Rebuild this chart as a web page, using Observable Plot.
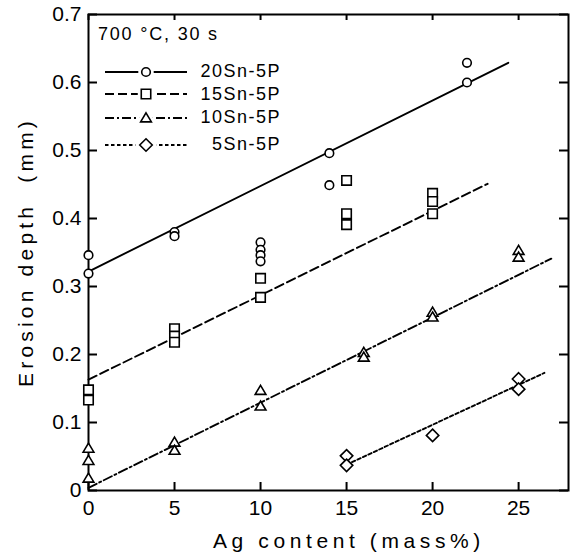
<!DOCTYPE html>
<html><head><meta charset="utf-8">
<script src="https://cdn.jsdelivr.net/npm/d3@7"></script>
<script src="https://cdn.jsdelivr.net/npm/@observablehq/plot@0.6"></script>
<style>
body{margin:0;background:#fff;}
#wrap{position:relative;width:573px;height:558px;}
#wrap svg{display:block;}
#overlay{position:absolute;left:0;top:0;pointer-events:none;}
</style></head><body><div id="wrap"><div id="chart"></div></div>
<script>
// ---- data ----
const seriesNames = ["20Sn-5P", "15Sn-5P", "10Sn-5P", "5Sn-5P"];

const ag20    = [0, 0, 5, 5, 10, 10, 10, 10, 14, 14, 22, 22];
const depth20 = [0.346, 0.319, 0.380, 0.374, 0.365, 0.354, 0.346, 0.337, 0.496, 0.449, 0.629, 0.600];

const ag15    = [0, 0, 5, 5, 5, 10, 10, 15, 15, 15, 20, 20, 20];
const depth15 = [0.148, 0.133, 0.238, 0.227, 0.218, 0.312, 0.284, 0.456, 0.407, 0.391, 0.437, 0.425, 0.407];

const ag10    = [0, 0, 0, 5, 5, 10, 10, 16, 16, 20, 20, 25, 25];
const depth10 = [0.062, 0.044, 0.018, 0.071, 0.059, 0.147, 0.124, 0.203, 0.196, 0.262, 0.255, 0.353, 0.343];

const ag5     = [15, 15, 20, 25, 25];
const depth5  = [0.051, 0.037, 0.081, 0.164, 0.149];

// fitted straight lines (end points)
const fitAg20 = [0, 24.4],  fitDepth20 = [0.322, 0.629];
const fitAg15 = [0, 23.2],  fitDepth15 = [0.163, 0.451];
const fitAg10 = [0, 26.9],  fitDepth10 = [0.004, 0.341];
const fitAg5  = [15, 26.5], fitDepth5  = [0.038, 0.173];

const xTicks = [0, 5, 10, 15, 20, 25];
const xTickLabels = ["0", "5", "10", "15", "20", "25"];
const yTicks = [0, 0.1, 0.2, 0.3, 0.4, 0.5, 0.6, 0.7];
const yTickLabels = ["0", "0.1", "0.2", "0.3", "0.4", "0.5", "0.6", "0.7"];
const xLabel = "Ag content (mass%)";
const yLabel = "Erosion depth\u00a0\u00a0(mm)";
const note = "700 °C, 30 s";

// ---- styling ----
const FONT = "'Liberation Sans', Arial, sans-serif";
const W = 573, H = 558, ML = 88, MR = 5, MT = 14, MB = 68;
const PW = W - ML - MR, PH = H - MT - MB;
const R = 4.3;

const symCircle = {draw(c, s){ const r = Math.sqrt(s/Math.PI); c.moveTo(r,0); c.arc(0,0,r,0,2*Math.PI); c.closePath(); }};
const symSquare = {draw(c, s){ const r = Math.sqrt(s/Math.PI)*1.1; c.rect(-r,-r,2*r,2*r); }};
const symTri    = {draw(c, s){ const r = Math.sqrt(s/Math.PI); const w = r*1.25; c.moveTo(0,-r*1.2); c.lineTo(w, r*0.9); c.lineTo(-w, r*0.9); c.closePath(); }};
const symDiam   = {draw(c, s){ const r = Math.sqrt(s/Math.PI)*1.45; c.moveTo(0,-r); c.lineTo(r,0); c.lineTo(0,r); c.lineTo(-r,0); c.closePath(); }};

const series = [
  {name: seriesNames[0], x: ag20, y: depth20, fx: fitAg20, fy: fitDepth20, sym: symCircle, dash: null},
  {name: seriesNames[1], x: ag15, y: depth15, fx: fitAg15, fy: fitDepth15, sym: symSquare, dash: "9,4"},
  {name: seriesNames[2], x: ag10, y: depth10, fx: fitAg10, fy: fitDepth10, sym: symTri,    dash: "9,3,2,3"},
  {name: seriesNames[3], x: ag5,  y: depth5,  fx: fitAg5,  fy: fitDepth5,  sym: symDiam,   dash: "3.5,2.5"}
];
const pts = s => s.x.map((x, i) => ({x, y: s.y[i]}));
const fit = s => s.fx.map((x, i) => ({x, y: s.fy[i]}));

const marks = [
  Plot.frame({stroke: "black", strokeWidth: 2}),
  Plot.tickY(yTicks, {y: d => d, insetRight: PW - 9, stroke: "black", strokeWidth: 2}),
  Plot.tickY(yTicks, {y: d => d, insetLeft: PW - 9, stroke: "black", strokeWidth: 2}),
  Plot.tickX(xTicks, {x: d => d, insetTop: PH - 8, stroke: "black", strokeWidth: 2}),
  Plot.tickX(xTicks, {x: d => d, insetBottom: PH - 6, stroke: "black", strokeWidth: 2}),
  Plot.axisY({ticks: yTicks, tickSize: 0, tickPadding: 7, label: null,
              tickFormat: d => yTickLabels[yTicks.indexOf(d)], fontSize: 21}),
  Plot.axisX({ticks: xTicks, tickSize: 0, tickPadding: 10, label: null,
              tickFormat: d => xTickLabels[xTicks.indexOf(d)], fontSize: 21}),
];
for (const s of series) {
  marks.push(Plot.line(fit(s), {x: "x", y: "y", stroke: "black", strokeWidth: 1.9, strokeDasharray: s.dash}));
}
for (const s of series) {
  marks.push(Plot.dot(pts(s), {x: "x", y: "y", symbol: s.sym, r: R, fill: "white", stroke: "black", strokeWidth: 1.6}));
}

const chart = Plot.plot({
  width: W, height: H,
  marginLeft: ML, marginRight: MR, marginTop: MT, marginBottom: MB,
  style: {fontFamily: FONT, fontSize: "21px", color: "black", background: "white"},
  x: {domain: [0, 27.9]},
  y: {domain: [0, 0.7]},
  marks
});
document.getElementById("chart").appendChild(chart);

// ---- annotation, legend and axis titles in a separate overlay SVG ----
const ov = d3.select("#wrap").append("svg").attr("id", "overlay")
  .attr("width", W).attr("height", H);
const g = ov.append("g").attr("font-family", FONT).attr("fill", "black");

g.append("text").attr("x", 98).attr("y", 40).attr("font-size", 18)
  .attr("letter-spacing", "1.8px").text(note);

const legRows = [72, 94, 118, 145];
const legText = [77, 100, 123, 150];
series.forEach((s, i) => {
  const y = legRows[i];
  g.append("line").attr("x1", 105).attr("x2", 187).attr("y1", y).attr("y2", y)
    .attr("stroke", "black").attr("stroke-width", 1.9)
    .attr("stroke-dasharray", s.dash);
  const sym = d3.symbol(s.sym, R * R * Math.PI)();
  g.append("path").attr("d", sym).attr("transform", `translate(146,${y})`)
    .attr("fill", "white").attr("stroke", "white").attr("stroke-width", 7);
  g.append("path").attr("d", sym).attr("transform", `translate(146,${y})`)
    .attr("fill", "white").attr("stroke", "black").attr("stroke-width", 1.6);
  g.append("text").attr("x", 281).attr("y", legText[i]).attr("text-anchor", "end")
    .attr("font-size", 18).attr("letter-spacing", "1.5px").text(s.name);
});

g.append("text").attr("x", 213).attr("y", 548).attr("font-size", 21)
  .attr("letter-spacing", "4.6px").text(xLabel);

g.append("text").attr("transform", `translate(33,${MT + PH / 2}) rotate(-90)`)
  .attr("text-anchor", "middle").attr("font-size", 21)
  .attr("letter-spacing", "4.2px").text(yLabel);
</script></body></html>
